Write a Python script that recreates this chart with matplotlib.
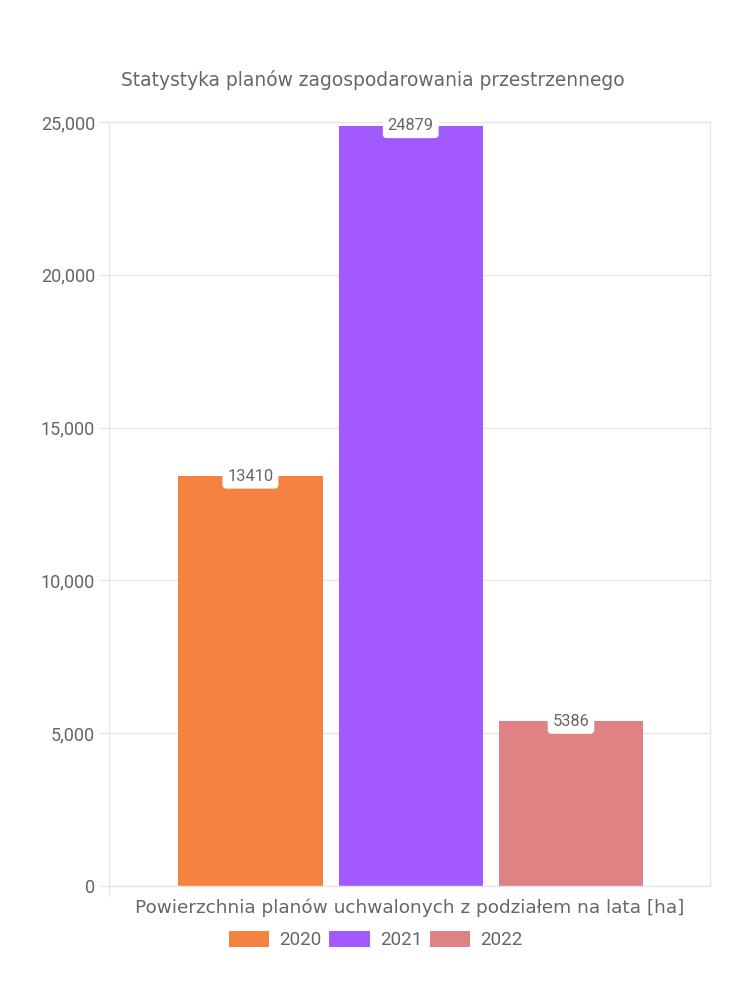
import matplotlib
matplotlib.use("Agg")
import matplotlib.pyplot as plt
from matplotlib.patches import Patch

# dane
years = ["2020", "2021", "2022"]
values = [13410, 24879, 5386]
colors = ["#F58240", "#A25AFF", "#E08283"]
yticks = [0, 5000, 10000, 15000, 20000, 25000]

title = "Statystyka planów zagospodarowania przestrzennego"
xlabel = "Powierzchnia planów uchwalonych z podziałem na lata [ha]"

plt.rcParams['font.family'] = ['DejaVu Sans']
num_font = ['Roboto', 'DejaVu Sans']
txt_color = "#666666"
grid_color = "#E6E6E6"

fig = plt.figure(figsize=(7.5, 10), dpi=100)
ax = fig.add_axes([109 / 750, 1 - 886 / 1000, 601 / 750, (886 - 122) / 1000])

# chart.js: categoryPercentage 0.8, barPercentage 0.9
slot = 0.8 / len(values)
width = slot * 0.9
for i, (y, v, c) in enumerate(zip(years, values, colors)):
    x = (i - (len(values) - 1) / 2) * slot + 0.002
    ax.bar(x, v, width=width, color=c, zorder=2)
    ax.text(x, v, str(v), ha="center", va="center", fontsize=11.8, color=txt_color,
            family=num_font, zorder=3,
            bbox=dict(boxstyle="round,pad=0.3,rounding_size=0.25", fc="white", ec="none"))

ax.set_xlim(-0.5, 0.5)
ax.set_ylim(0, 25000)
ax.set_yticks(yticks)
ax.set_yticklabels([f"{t:,}" for t in yticks], fontsize=13, color=txt_color,
                   family=num_font)
ax.set_xticks([-0.5])
ax.set_xticklabels([""])
ax.tick_params(axis="both", length=7, color=grid_color, width=1, pad=3)

ax.grid(axis="y", color=grid_color, linewidth=1, zorder=0)
for s in ax.spines.values():
    s.set_color(grid_color)
    s.set_linewidth(1)

fig.text(410 / 750, 1 - 908 / 1000, xlabel, ha="center", va="center", fontsize=13.3,
         color=txt_color)
fig.text(0.497, 1 - 80 / 1000, title, ha="center", va="center", fontsize=13.4, color=txt_color)

handles = [Patch(facecolor=c, edgecolor="none") for c in colors]
fig.legend(handles, years, loc="center", bbox_to_anchor=(0.501, 1 - 940 / 1000), ncol=3,
           frameon=False, handlelength=2.15, handleheight=1.0,
           handletextpad=0.55, columnspacing=0.4, labelcolor=txt_color,
           prop={'family': num_font, 'size': 13.5})

fig.savefig("out.png", dpi=100, facecolor="white")
